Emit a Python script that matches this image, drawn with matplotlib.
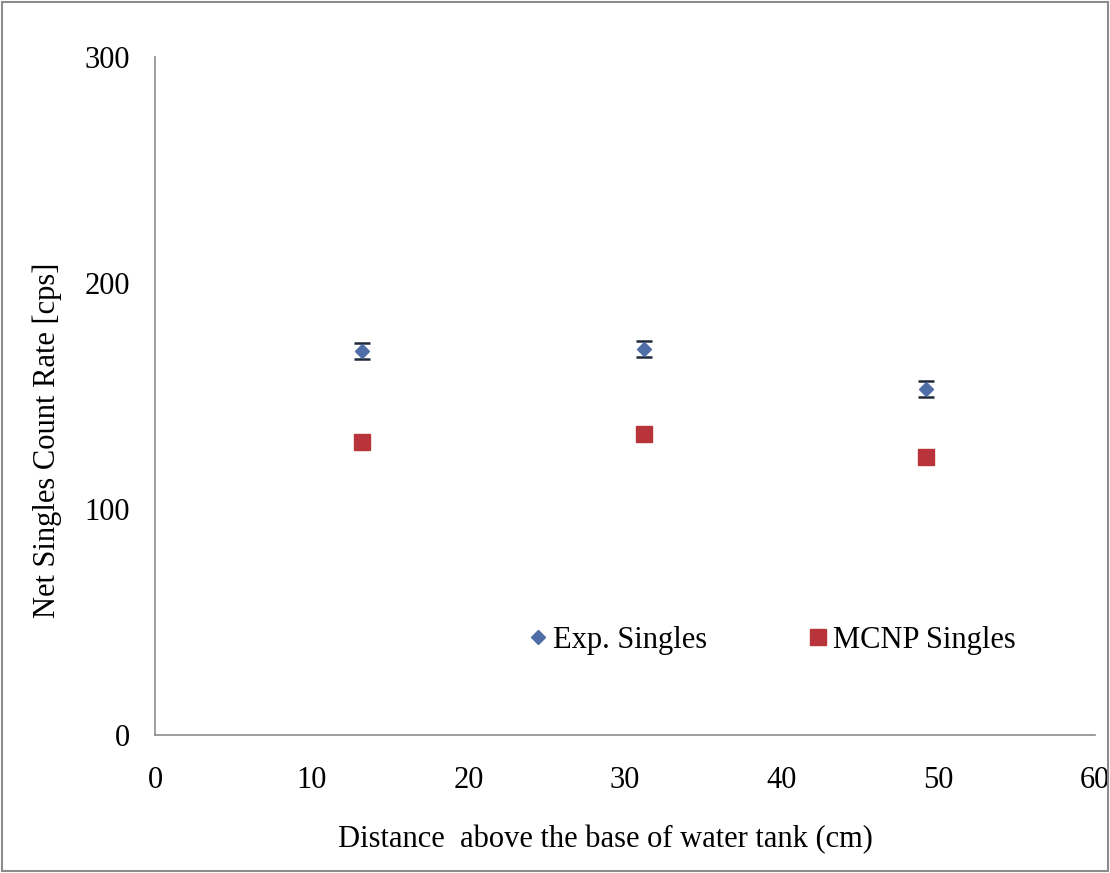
import matplotlib
matplotlib.use('Agg')
import matplotlib.pyplot as plt
from matplotlib.patches import Rectangle

# distance above base of water tank (cm)
distance = [13.2, 31.2, 49.2]
exp_singles = [170.0, 170.8, 153.2]
exp_err = [3.5, 3.5, 3.5]
mcnp_singles = [129.6, 133.2, 123.0]
mcnp_err = [1.5, 1.5, 1.5]

plt.rcParams['font.family'] = ['Liberation Serif', 'DejaVu Serif']

fig = plt.figure(figsize=(11.1, 8.73), dpi=100)
ax = fig.add_axes([0.1396, 0.158, 0.847, 0.777])

ax.errorbar(distance, exp_singles, yerr=exp_err, fmt='D', color='#4F6EA8',
            ms=7, ecolor='#1F2A3A', elinewidth=1.5, capsize=5.5, capthick=1.8,
            label='Exp. Singles')
ax.errorbar(distance, mcnp_singles, yerr=mcnp_err, fmt='s', color='#B8333A',
            ms=11, ecolor='#6b2020', elinewidth=1, capsize=4, capthick=1,
            label='MCNP Singles')

ax.set_xlim(0, 60)
ax.set_ylim(0, 300)
ax.set_xticks(range(0, 61, 10))
ax.set_yticks([0, 100, 200, 300])
ax.tick_params(axis='x', length=0, labelsize=22, pad=22)
ax.tick_params(axis='y', length=0, labelsize=22, pad=18)
for s in ['top', 'right']:
    ax.spines[s].set_visible(False)
for s in ['left', 'bottom']:
    ax.spines[s].set_color('#8c8c8c')
    ax.spines[s].set_linewidth(1.2)

ax.set_xlabel('Distance  above the base of water tank (cm)', fontsize=22, labelpad=22)
ax.set_ylabel('Net Singles Count Rate [cps]', fontsize=22, labelpad=16)
# labels sit a bit off-centre in the original
ax.xaxis.label.set_x(0.479)
ax.yaxis.label.set_y(0.434)

handles, labels = ax.get_legend_handles_labels()
handles = [h[0] for h in handles]
ax.legend(handles, labels, ncol=2, frameon=False, fontsize=22,
          loc='center', bbox_to_anchor=(0.655, 0.14), columnspacing=3.2,
          handletextpad=0.1, handlelength=0.8)

fig.add_artist(Rectangle((0.002, 0.002), 0.996, 0.996, transform=fig.transFigure,
                         fill=False, edgecolor='#8c8c8c', linewidth=1.5))

fig.savefig('out.png', dpi=100)
